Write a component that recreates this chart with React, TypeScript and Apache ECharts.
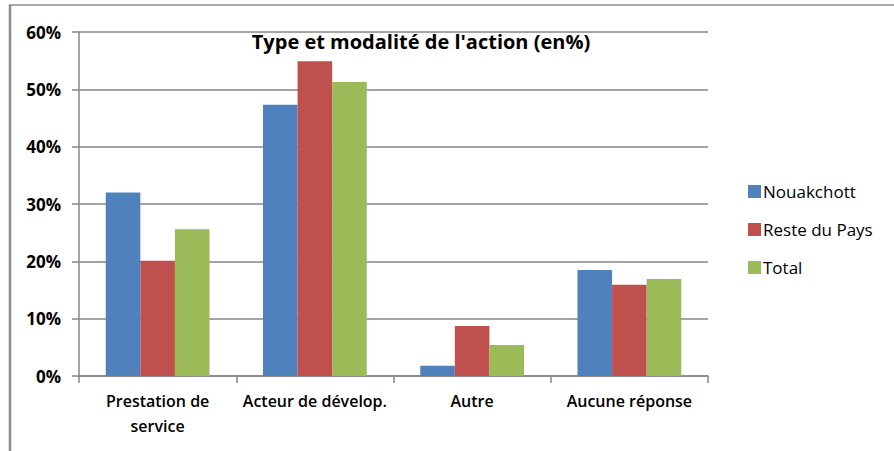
import React, { useEffect, useRef } from "react";
import * as echarts from "echarts";

const categories = ["Prestation de\nservice", "Acteur de dévelop.", "Autre", "Aucune réponse"];
const seriesNames = ["Nouakchott", "Reste du Pays", "Total"];
const nouakchott = [32.0, 47.3, 1.8, 18.5];
const resteDuPays = [20.1, 54.9, 8.7, 15.9];
const total = [25.6, 51.3, 5.4, 16.9];
const colors = ["#4F81BD", "#C0504D", "#9BBB59"];
const titleText = "Type et modalité de l'action (en%)";

export default function App() {
  const ref = useRef<HTMLDivElement>(null);
  useEffect(() => {
    if (!ref.current) return;
    const chart = echarts.init(ref.current, null, { renderer: "svg" });
    const values = [nouakchott, resteDuPays, total];
    chart.setOption({
      animation: false,
      backgroundColor: "#ffffff",
      textStyle: { fontFamily: "Open Sans" },
      title: {
        text: titleText,
        left: 416,
        top: 26,
        textAlign: "center",
        textStyle: { fontFamily: "Open Sans", fontWeight: "bold", fontSize: 20, color: "#000" },
      },
      legend: {
        orient: "vertical",
        left: 748,
        top: 183,
        padding: 0,
        itemWidth: 13,
        itemHeight: 13,
        itemGap: 21,
        icon: "rect",
        textStyle: { fontFamily: "Open Sans", fontSize: 17, color: "#000", padding: [0, 0, 0, -3] },
        data: seriesNames,
      },
      grid: { left: 79, right: 186, top: 32, bottom: 75 },
      xAxis: {
        type: "category",
        data: categories,
        axisLine: { lineStyle: { color: "#868686", width: 1.5 } },
        axisTick: { show: true, alignWithLabel: false, length: 7, lineStyle: { color: "#868686", width: 1.5 } },
        axisLabel: {
          interval: 0,
          margin: 12,
          fontFamily: "Open Sans",
          fontWeight: 600,
          fontSize: 16,
          color: "#000",
          lineHeight: 25,
        },
      },
      yAxis: {
        type: "value",
        min: 0,
        max: 60,
        interval: 10,
        axisLine: { show: true, lineStyle: { color: "#868686", width: 1.5 } },
        axisTick: { show: true, length: 7, lineStyle: { color: "#868686", width: 1.5 } },
        axisLabel: {
          formatter: "{value}%",
          margin: 18,
          fontFamily: "Open Sans",
          fontWeight: "bold",
          fontSize: 17,
          color: "#000",
        },
        splitLine: { lineStyle: { color: "#868686", width: 1.5 } },
      },
      series: seriesNames.map((name, i) => ({
        name,
        type: "bar",
        data: values[i],
        itemStyle: { color: colors[i] },
        barGap: "0%",
        barCategoryGap: "34%",
      })),
      graphic: [
        { type: "line", shape: { x1: 9, y1: 5, x2: 894, y2: 5 }, style: { stroke: "#8c8c8c", lineWidth: 1.5 } },
        { type: "line", shape: { x1: 10, y1: 5, x2: 10, y2: 451 }, style: { stroke: "#8c8c8c", lineWidth: 2.5 } },
      ],
    });
    return () => chart.dispose();
  }, []);
  return <div ref={ref} style={{ position: "absolute", left: 0, top: 0, width: 894, height: 451 }} />;
}
